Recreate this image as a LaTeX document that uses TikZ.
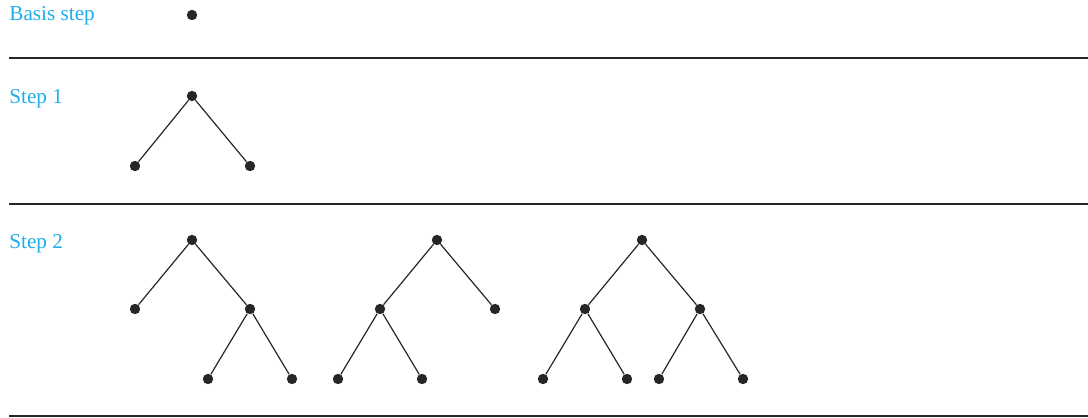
\documentclass[tikz,border=0pt]{standalone}
\usepackage{fontspec}
\setmainfont{Liberation Serif}
\usepackage{xcolor}
\definecolor{stepblue}{HTML}{1BAEE8}
\tikzset{
  vtx/.style={circle,fill=black!85,inner sep=0pt,minimum size=5.2pt},
  edg/.style={line width=0.6pt,black!85},
  sep/.style={line width=0.8pt,black!85},
  lbl/.style={anchor=base west,inner sep=0pt,text=stepblue,font=\fontsize{10.6}{12}\selectfont}
}
\begin{document}
\begin{tikzpicture}[x=0.5pt,y=-0.5pt]
\useasboundingbox (0,0) rectangle (1088,418);
% basis step
\node[lbl] (l0) at (9,20.5) {Basis step};
\node[vtx] (b0) at (192,15) {};
\coordinate (s1a) at (9,58); \coordinate (s1b) at (1088,58);
\draw[sep] (s1a) -- (s1b);
% step 1
\node[lbl] (l1) at (9,103.5) {Step 1};
\node[vtx] (a0) at (192,96) {};
\node[vtx] (a1) at (135,166) {};
\node[vtx] (a2) at (250,166) {};
\draw[edg] (a0) -- (a1); \draw[edg] (a0) -- (a2);
\coordinate (s2a) at (9,204); \coordinate (s2b) at (1088,204);
\draw[sep] (s2a) -- (s2b);
% step 2
\node[lbl] (l2) at (9,248) {Step 2};
\node[vtx] (p0) at (192,240) {}; \node[vtx] (p1) at (135,309) {}; \node[vtx] (p2) at (250,309) {};
\node[vtx] (p3) at (208,379) {}; \node[vtx] (p4) at (292,379) {};
\draw[edg] (p0) -- (p1); \draw[edg] (p0) -- (p2); \draw[edg] (p2) -- (p3); \draw[edg] (p2) -- (p4);
\node[vtx] (q0) at (437,240) {}; \node[vtx] (q1) at (380,309) {}; \node[vtx] (q2) at (495,309) {};
\node[vtx] (q3) at (338,379) {}; \node[vtx] (q4) at (422,379) {};
\draw[edg] (q0) -- (q1); \draw[edg] (q0) -- (q2); \draw[edg] (q1) -- (q3); \draw[edg] (q1) -- (q4);
\node[vtx] (r0) at (642,240) {}; \node[vtx] (r1) at (585,309) {}; \node[vtx] (r2) at (700,309) {};
\node[vtx] (r3) at (543,379) {}; \node[vtx] (r4) at (627,379) {};
\node[vtx] (r5) at (659,379) {}; \node[vtx] (r6) at (743,379) {};
\draw[edg] (r0) -- (r1); \draw[edg] (r0) -- (r2); \draw[edg] (r1) -- (r3); \draw[edg] (r1) -- (r4);
\draw[edg] (r2) -- (r5); \draw[edg] (r2) -- (r6);
\coordinate (s3a) at (9,416); \coordinate (s3b) at (1088,416);
\draw[sep] (s3a) -- (s3b);
\end{tikzpicture}
\end{document}
